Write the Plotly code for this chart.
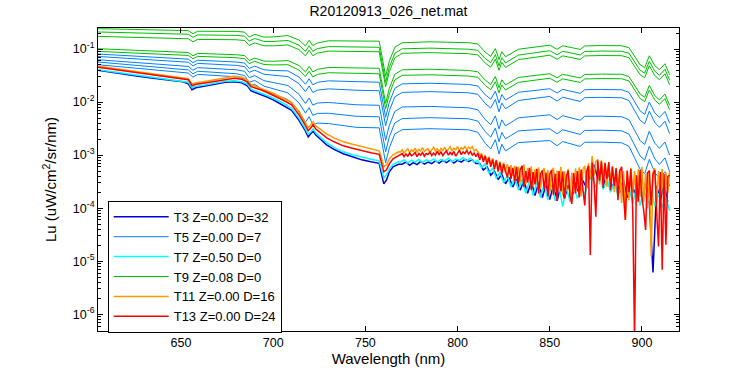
import plotly.graph_objects as go

# ---------------- wavelength grids (nm) ----------------
wl_upper = [605, 630, 650, 654, 656.5, 659, 680, 684.5, 687, 690, 695, 700, 708, 714,
            717.5, 719.5, 721.5, 724, 730, 745, 757.5, 759.5, 761, 763, 766, 770, 785,
            806, 811, 815, 818, 820.5, 822.5, 824, 826, 833, 850, 854, 857, 866.5, 869,
            878, 889, 893, 896, 899, 901.5, 904, 907, 909.5, 912.5, 915]

wl_low = [605, 615, 625, 635, 645, 651, 654, 656, 658, 662, 668, 674, 679, 683, 686, 688,
          690, 694, 697, 700, 705, 710, 714, 717, 719, 720.5, 721.7, 723, 725.5, 729, 733,
          738, 743, 748, 753, 757.5, 759, 760, 761.5, 763, 765, 768]
wl_fine_1nm = list(range(769, 916))
wl_fine_odd = list(range(769, 916, 2))
wl_fine_even = list(range(770, 915, 2))

# ---------------- log10 radiance values ----------------
# T9 (green) casts
t9_a = [-0.617, -0.636, -0.651, -0.653, -0.712, -0.665, -0.668, -0.682, -0.773, -0.724, -0.775, -0.772, -0.747, -0.830, -0.942, -0.836, -0.937, -0.887, -0.845, -0.843, -0.853, -1.230, -1.513, -1.230, -0.966, -0.882, -0.864, -0.881, -0.905, -1.060, -1.139, -0.991, -1.201, -1.051, -1.147, -1.004, -0.928, -1.004, -0.939, -1.007, -0.942, -0.935, -0.938, -0.976, -1.127, -1.296, -1.353, -1.127, -1.315, -1.391, -1.278, -1.485]
t9_b = [-0.679, -0.702, -0.719, -0.722, -0.781, -0.735, -0.743, -0.758, -0.850, -0.802, -0.857, -0.858, -0.839, -0.928, -1.044, -0.939, -1.042, -0.993, -0.955, -0.957, -0.967, -1.344, -1.627, -1.344, -1.080, -0.996, -0.983, -1.004, -1.026, -1.180, -1.257, -1.107, -1.317, -1.166, -1.262, -1.115, -1.032, -1.108, -1.043, -1.111, -1.046, -1.039, -1.042, -1.080, -1.231, -1.400, -1.457, -1.231, -1.419, -1.495, -1.382, -1.589]
t9_c = [-0.762, -0.787, -0.804, -0.807, -0.866, -0.819, -0.825, -0.841, -0.932, -0.885, -0.939, -0.941, -0.923, -1.012, -1.128, -1.024, -1.126, -1.078, -1.039, -1.042, -1.052, -1.429, -1.712, -1.429, -1.165, -1.081, -1.068, -1.089, -1.111, -1.265, -1.342, -1.192, -1.402, -1.251, -1.347, -1.200, -1.117, -1.193, -1.128, -1.196, -1.130, -1.123, -1.126, -1.164, -1.315, -1.484, -1.541, -1.315, -1.503, -1.579, -1.466, -1.673]
t9_d = [-0.994, -1.028, -1.060, -1.066, -1.128, -1.083, -1.108, -1.124, -1.217, -1.171, -1.227, -1.231, -1.218, -1.312, -1.431, -1.327, -1.431, -1.384, -1.348, -1.353, -1.363, -1.740, -2.023, -1.740, -1.476, -1.392, -1.381, -1.404, -1.430, -1.586, -1.666, -1.518, -1.730, -1.580, -1.677, -1.536, -1.466, -1.542, -1.477, -1.545, -1.480, -1.473, -1.476, -1.520, -1.675, -1.849, -1.909, -1.687, -1.879, -1.959, -1.850, -2.061]
t9_e = [-1.045, -1.085, -1.115, -1.121, -1.183, -1.139, -1.164, -1.182, -1.276, -1.231, -1.292, -1.300, -1.296, -1.397, -1.520, -1.419, -1.525, -1.479, -1.447, -1.457, -1.467, -1.844, -2.127, -1.844, -1.580, -1.496, -1.486, -1.509, -1.533, -1.687, -1.765, -1.617, -1.827, -1.677, -1.773, -1.629, -1.551, -1.627, -1.562, -1.630, -1.564, -1.557, -1.560, -1.604, -1.759, -1.933, -1.993, -1.771, -1.963, -2.043, -1.934, -2.145]
# T5 (azure) casts
t5_a = [-1.094, -1.142, -1.183, -1.191, -1.257, -1.211, -1.245, -1.265, -1.366, -1.322, -1.391, -1.405, -1.412, -1.528, -1.664, -1.560, -1.674, -1.629, -1.600, -1.617, -1.627, -2.004, -2.287, -2.004, -1.740, -1.657, -1.645, -1.668, -1.697, -1.863, -1.947, -1.794, -2.016, -1.860, -1.961, -1.816, -1.749, -1.830, -1.761, -1.836, -1.767, -1.763, -1.768, -1.817, -1.981, -2.166, -2.231, -1.999, -2.204, -2.289, -2.177, -2.399]
t5_b = [-1.140, -1.194, -1.240, -1.249, -1.318, -1.271, -1.309, -1.333, -1.440, -1.398, -1.476, -1.498, -1.520, -1.653, -1.803, -1.697, -1.819, -1.776, -1.751, -1.777, -1.787, -2.164, -2.447, -2.164, -1.900, -1.818, -1.803, -1.825, -1.854, -2.026, -2.114, -1.951, -2.183, -2.019, -2.126, -1.970, -1.894, -1.980, -1.909, -1.988, -1.916, -1.912, -1.919, -1.973, -2.147, -2.342, -2.412, -2.170, -2.386, -2.477, -2.361, -2.596]
t5_c = [-1.202, -1.268, -1.319, -1.328, -1.401, -1.351, -1.391, -1.421, -1.539, -1.501, -1.596, -1.635, -1.688, -1.853, -2.027, -1.923, -2.058, -2.018, -2.007, -2.051, -2.061, -2.438, -2.721, -2.438, -2.174, -2.093, -2.082, -2.108, -2.145, -2.330, -2.426, -2.260, -2.505, -2.336, -2.449, -2.297, -2.240, -2.330, -2.257, -2.342, -2.268, -2.267, -2.277, -2.335, -2.519, -2.725, -2.799, -2.548, -2.776, -2.872, -2.753, -3.000]
t5_d = [-1.245, -1.321, -1.383, -1.394, -1.469, -1.419, -1.466, -1.501, -1.627, -1.592, -1.700, -1.751, -1.827, -2.015, -2.208, -2.105, -2.250, -2.214, -2.211, -2.268, -2.278, -2.655, -2.938, -2.655, -2.391, -2.311, -2.294, -2.315, -2.359, -2.557, -2.660, -2.490, -2.749, -2.573, -2.694, -2.543, -2.504, -2.598, -2.522, -2.610, -2.534, -2.531, -2.542, -2.605, -2.799, -3.015, -3.094, -2.834, -3.072, -3.175, -3.052, -3.311]
t5_e = [-1.296, -1.379, -1.443, -1.453, -1.532, -1.478, -1.523, -1.563, -1.698, -1.666, -1.789, -1.851, -1.952, -2.166, -2.379, -2.276, -2.431, -2.398, -2.405, -2.476, -2.486, -2.863, -3.146, -2.863, -2.599, -2.520, -2.502, -2.523, -2.569, -2.776, -2.884, -2.708, -2.978, -2.795, -2.920, -2.764, -2.725, -2.823, -2.744, -2.837, -2.757, -2.756, -2.768, -2.836, -3.040, -3.267, -3.351, -3.080, -3.330, -3.438, -3.312, -3.584]

# bottom (noisy) casts: smooth part on wl_low, noisy part on the fine grids
t3_low = [-1.400, -1.457, -1.504, -1.551, -1.589, -1.617, -1.655, -1.768, -1.730, -1.702, -1.664, -1.626, -1.617, -1.636, -1.692, -1.787, -1.815, -1.862, -1.909, -1.957, -2.051, -2.155, -2.343, -2.513, -2.655, -2.598, -2.542, -2.617, -2.702, -2.806, -2.891, -2.975, -3.032, -3.089, -3.126, -3.155, -3.391, -3.542, -3.466, -3.315, -3.221, -3.174]
t3_fine = [-3.17, -3.13, -3.19, -3.14, -3.18, -3.12, -3.17, -3.13, -3.16, -3.11, -3.15, -3.10, -3.14, -3.09, -3.15, -3.10, -3.13, -3.08, -3.12, -3.09, -3.16,
           -3.16, -3.28, -3.22, -3.38, -3.30, -3.46, -3.36, -3.54, -3.42, -3.60,
           -3.44, -3.66, -3.48, -3.72, -3.50, -3.76, -3.52, -3.80, -3.55, -3.84,
           -3.56, -3.86, -3.58, -3.82, -3.56, -3.80, -3.52, -3.74, -3.48, -3.62,
           -3.36, -3.18, -3.44, -3.28, -3.55, -3.34, -3.62, -3.40, -3.70, -3.46,
           -3.80, -3.50, -3.72, -3.46, -3.82, -3.52, -3.90, -5.21, -3.58, -3.85, -3.54, -3.88]
t7_low = [-1.391, -1.438, -1.485, -1.532, -1.570, -1.598, -1.626, -1.730, -1.702, -1.683, -1.645, -1.608, -1.598, -1.617, -1.664, -1.758, -1.787, -1.834, -1.881, -1.928, -2.013, -2.117, -2.306, -2.475, -2.608, -2.560, -2.504, -2.579, -2.664, -2.768, -2.853, -2.938, -2.994, -3.042, -3.079, -3.108, -3.296, -3.428, -3.372, -3.258, -3.174, -3.126]
t7_fine = [-3.13, -3.09, -3.15, -3.10, -3.13, -3.08, -3.14, -3.09, -3.12, -3.07, -3.13, -3.08, -3.11, -3.06, -3.12, -3.07, -3.10, -3.05, -3.11, -3.06, -3.13,
           -3.10, -3.24, -3.16, -3.34, -3.24, -3.44, -3.32, -3.52, -3.38, -3.60,
           -3.42, -3.66, -3.46, -3.72, -3.48, -3.76, -3.50, -3.80, -3.54, -3.84,
           -3.56, -3.86, -3.58, -3.97, -3.60, -3.88, -3.58, -3.82, -3.54, -3.76,
           -3.48, -3.42, -3.60, -3.38, -3.65, -3.44, -3.70, -3.50, -3.76, -3.56,
           -3.84, -3.60, -3.90, -3.62, -3.95, -3.66, -3.88, -3.70, -3.96, -3.72, -3.98, -3.80, -4.05]
t11_low = [-1.325, -1.372, -1.419, -1.466, -1.504, -1.532, -1.560, -1.664, -1.636, -1.617, -1.579, -1.542, -1.513, -1.532, -1.579, -1.674, -1.702, -1.749, -1.787, -1.834, -1.919, -2.004, -2.183, -2.353, -2.485, -2.428, -2.372, -2.447, -2.513, -2.598, -2.674, -2.749, -2.796, -2.843, -2.891, -2.919, -3.089, -3.221, -3.183, -3.070, -2.994, -2.938]
t11_fine = [-2.94, -2.90, -2.96, -2.91, -2.88, -2.95, -2.90, -2.93, -2.87, -2.94, -2.89, -2.92, -2.86, -2.93, -2.90, -2.88, -2.95, -2.89, -2.85, -2.92, -2.88, -2.94,
            -2.87, -2.91, -2.85, -2.93, -2.88, -2.84, -2.92, -2.87, -2.90, -2.84, -2.91, -2.86, -2.89, -2.83, -2.90, -2.85, -2.88, -2.84, -2.92, -2.89,
            -2.93, -3.01, -2.97, -3.08, -3.00, -3.12, -3.03, -3.17, -3.06, -3.21, -3.09, -3.25, -3.12, -3.28, -3.14, -3.32, -3.17, -3.36, -3.19, -3.39,
            -3.20, -3.45, -3.22, -3.50, -3.25, -3.18, -3.55, -3.24, -3.48, -3.21, -3.60, -3.27, -3.52, -3.23, -3.64, -3.30, -3.25, -3.58, -3.28, -3.68,
            -3.31, -3.24, -3.70, -3.29, -3.62, -3.22, -3.75, -3.30, -3.66, -3.26, -3.80, -3.33, -3.70, -3.25, -3.64, -3.23, -3.78, -3.28, -3.20, -3.62,
            -3.15, -3.45, -3.02, -3.38, -3.12, -3.08, -3.55, -3.10, -3.42, -3.14, -3.60, -3.18, -3.48, -3.20, -3.70, -3.24, -3.58, -3.27, -3.90, -3.30,
            -4.22, -3.28, -3.85, -3.24, -3.70, -3.30, -3.95, -3.26, -3.78, -3.22, -3.88, -3.35, -4.00, -3.28, -4.91, -3.32, -3.25, -3.92, -3.30, -3.80,
            -3.26, -4.05, -3.33, -3.72, -3.30]
t13_low = [-1.343, -1.391, -1.438, -1.485, -1.523, -1.551, -1.579, -1.692, -1.664, -1.645, -1.608, -1.570, -1.551, -1.570, -1.617, -1.711, -1.730, -1.777, -1.825, -1.872, -1.957, -2.051, -2.240, -2.409, -2.542, -2.485, -2.428, -2.504, -2.579, -2.674, -2.749, -2.825, -2.872, -2.919, -2.957, -2.985, -3.183, -3.315, -3.277, -3.164, -3.070, -3.013]
t13_fine = [-3.00, -2.97, -3.03, -2.98, -3.02, -2.96, -3.01, -2.99, -2.95, -3.03, -2.97, -3.00, -2.95, -3.02, -2.97, -2.99, -2.94, -3.01, -2.96, -3.00, -2.93, -2.99,
            -2.94, -3.01, -2.96, -2.92, -3.00, -2.95, -2.99, -2.93, -3.02, -2.96, -2.91, -2.99, -2.94, -2.97, -2.91, -2.98, -2.93, -3.00, -2.96, -3.03,
            -2.96, -3.09, -2.99, -3.13, -3.02, -3.18, -3.05, -3.22, -3.08, -3.27, -3.10, -3.31, -3.14, -3.36, -3.17, -3.30, -3.42, -3.22, -3.45, -3.24,
            -3.50, -3.22, -3.55, -3.27, -3.20, -3.60, -3.30, -3.52, -3.24, -3.66, -3.32, -3.55, -3.26, -3.72, -3.35, -3.29, -3.65, -3.33, -3.78, -3.36,
            -3.28, -3.75, -3.35, -3.86, -3.30, -3.68, -3.31, -3.82, -3.40, -3.29, -3.78, -3.92, -3.34, -3.72, -3.30, -3.80, -3.27, -3.66, -3.95, -3.30,
            -3.20, -4.88, -3.14, -3.50, -4.16, -3.10, -3.48, -3.12, -3.62, -3.15, -3.45, -3.13, -3.66, -3.22, -3.58, -3.25, -3.85, -3.30, -3.22, -3.76,
            -4.22, -3.30, -3.70, -3.26, -4.02, -6.50, -3.38, -3.88, -3.28, -3.80, -4.05, -4.41, -3.33, -3.30, -3.95, -3.36, -3.28, -4.08, -4.72, -3.32,
            -5.16, -3.35, -4.69, -3.40, -3.38]

legend_names = ["T3 Z=0.00 D=32", "T5 Z=0.00 D=7", "T7 Z=0.50 D=0",
                "T9 Z=0.08 D=0", "T11 Z=0.00 D=16", "T13 Z=0.00 D=24"]
colors = ["#0000d8", "#0080ff", "#00ffff", "#00c000", "#ff9900", "#ff0000"]
widths = [1.5, 1, 1.5, 1, 1.5, 1.5]

ytick_vals = [1e-6, 1e-5, 1e-4, 1e-3, 1e-2, 1e-1]
ytick_text = ["10<sup>-6</sup>", "10<sup>-5</sup>", "10<sup>-4</sup>",
              "10<sup>-3</sup>", "10<sup>-2</sup>", "10<sup>-1</sup>"]
xtick_vals = [650, 700, 750, 800, 850, 900]


def pw(vals):
    return [10 ** v for v in vals]


groups = [
    (0, [(wl_low + wl_fine_even, t3_low + t3_fine)]),
    (1, [(wl_upper, s) for s in (t5_a, t5_b, t5_c, t5_d, t5_e)]),
    (2, [(wl_low + wl_fine_odd, t7_low + t7_fine)]),
    (3, [(wl_upper, s) for s in (t9_a, t9_b, t9_c, t9_d, t9_e)]),
    (4, [(wl_low + wl_fine_1nm, t11_low + t11_fine)]),
    (5, [(wl_low + wl_fine_1nm, t13_low + t13_fine)]),
]

fig = go.Figure()
for gi, series in groups:
    for k, (xs, ys) in enumerate(series):
        fig.add_trace(go.Scatter(
            x=xs, y=pw(ys), mode="lines",
            line=dict(color=colors[gi], width=widths[gi]),
            name=legend_names[gi], legendgroup=legend_names[gi],
            showlegend=(k == 0), hoverinfo="skip"))

minor_vals = [m * 10 ** e for e in range(-7, 0) for m in range(2, 10)]

axis_common = dict(showline=True, linecolor="black", linewidth=1, mirror="allticks",
                   ticks="inside", ticklen=5, tickcolor="black", showgrid=False,
                   zeroline=False, tickfont=dict(size=12.5, color="black"))

fig.update_xaxes(range=[605, 920.1], tickmode="array", tickvals=xtick_vals,
                 title=dict(text="Wavelength (nm)", font=dict(size=15), standoff=2),
                 **axis_common)
fig.update_yaxes(type="log", range=[-6.315, -0.604], tickmode="array",
                 tickvals=ytick_vals, ticktext=ytick_text,
                 minor=dict(tickmode="array", tickvals=minor_vals, ticks="inside",
                            ticklen=3, tickcolor="black", showgrid=False),
                 title=dict(text="Lu (uW/cm<sup>2</sup>/sr/nm)", font=dict(size=15), standoff=12),
                 **axis_common)

fig.update_layout(
    width=750, height=375, autosize=False,
    margin=dict(l=98, r=71, t=28, b=44),
    paper_bgcolor="white", plot_bgcolor="white",
    font=dict(family="Liberation Sans, Arial, sans-serif", size=12, color="black"),
    title=dict(text="R20120913_026_net.mat", x=0.518, xanchor="center",
               y=0.970, yanchor="middle", font=dict(size=14)),
    legend=dict(x=0.0167, y=0.4295, xanchor="left", yanchor="top", bgcolor="white",
                bordercolor="black", borderwidth=1, font=dict(size=13),
                tracegroupgap=0, itemwidth=55),
)

fig.write_html("out.html", config={"displayModeBar": False},
               post_script="document.body.style.margin='0';document.body.style.padding='0';")
